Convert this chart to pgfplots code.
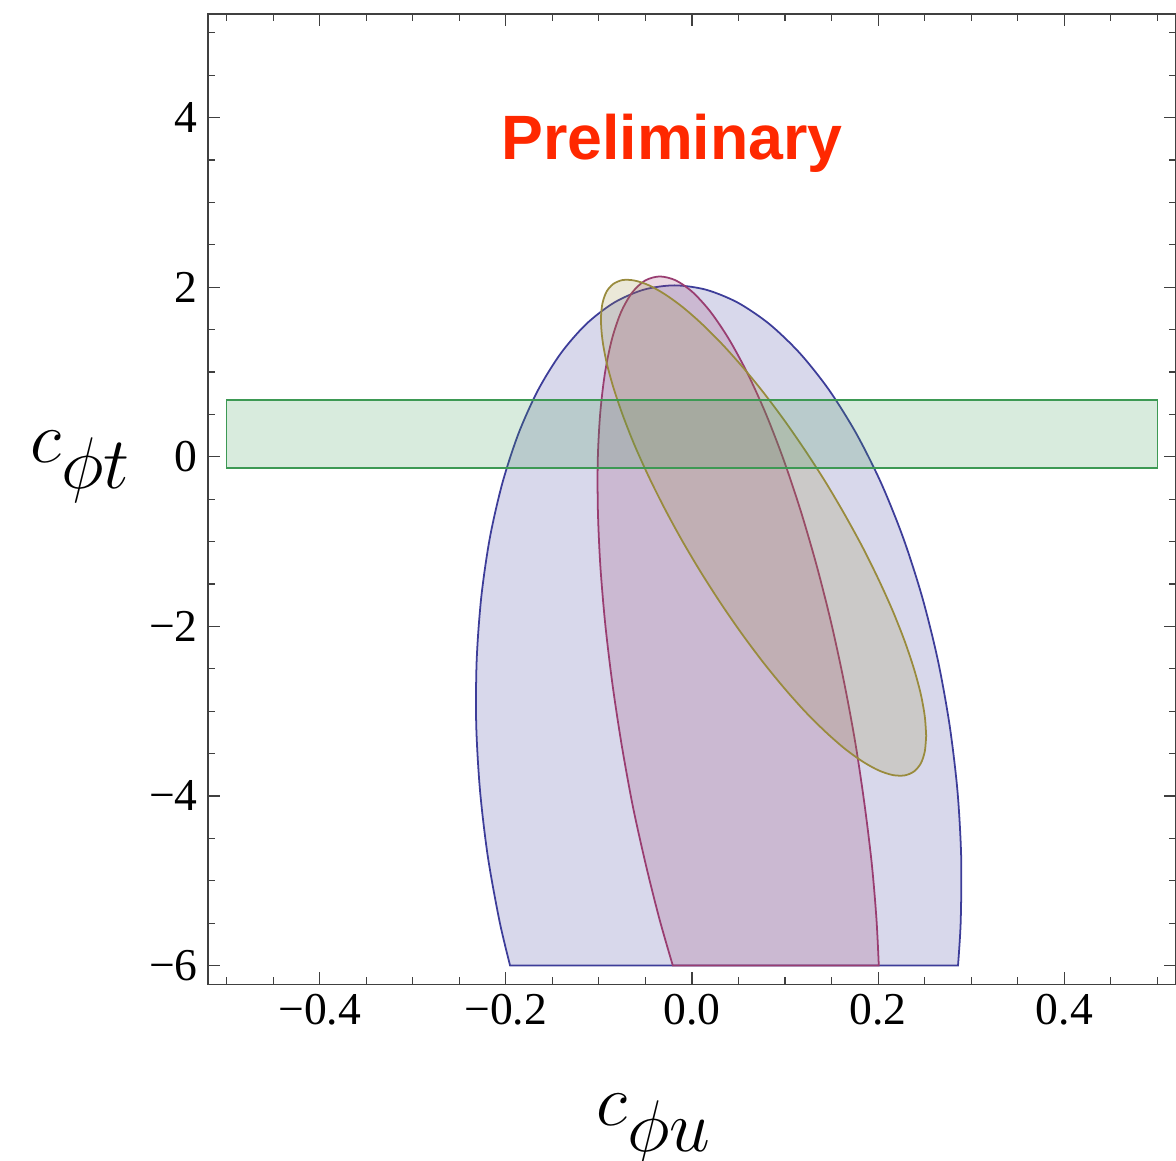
\documentclass[border=0pt]{standalone}
\usepackage{fontspec}
\setmainfont{Liberation Serif}
\newfontfamily\labelsans{Liberation Sans}
\usepackage{pgfplots}
\pgfplotsset{compat=1.18}
\DeclareMathSizes{30}{30}{28}{20}

% Mathematica (pre v10) default plot colours
\definecolor{mmblue}{rgb}{0.24,0.24,0.60}
\definecolor{mmmag}{rgb}{0.60,0.24,0.4428}
\definecolor{mmolive}{rgb}{0.60,0.547,0.24}
\definecolor{mmgreen}{rgb}{0.24,0.60,0.33}
\definecolor{prelim}{RGB}{255,40,0}

\begin{document}
\begin{tikzpicture}
  \begin{axis}[
      scale only axis,
      width=329.1pt, height=329.8pt,
      xmin=-0.52, xmax=0.52, ymin=-6.22, ymax=5.22,
      xtick={-0.4,-0.2,0,0.2,0.4},
      xticklabels={−0.4,−0.2,0.0,0.2,0.4},
      minor xtick={-0.5,-0.45,-0.35,-0.3,-0.25,-0.15,-0.1,-0.05,0.05,0.1,0.15,0.25,0.3,0.35,0.45,0.5},
      ytick={-6,-4,-2,0,2,4},
      yticklabels={−6,−4,−2,0,2,4},
      minor ytick={-5.5,-5,-4.5,-3.5,-3,-2.5,-1.5,-1,-0.5,0.5,1,1.5,2.5,3,3.5,4.5,5},
      tick align=inside,
      major tick length=4pt, minor tick length=2.3pt,
      axis line style={black!75, line width=0.45pt},
      tick style={black!75, line width=0.4pt},
      ticklabel style={font=\fontsize{15.5}{18}\selectfont},
      clip=false,
    ]
    % blue region (cut at c_phi_t = -6)
    \addplot[smooth, draw=mmblue, line width=0.6pt, fill=mmblue, fill opacity=0.2] coordinates {
      (-0.1954,-6.0) (-0.2067,-5.481) (-0.2193,-4.717) (-0.2277,-3.939) (-0.2318,-3.161)
      (-0.2313,-2.396) (-0.2264,-1.658) (-0.2172,-0.959) (-0.2037,-0.310) (-0.1863,0.276)
      (-0.1652,0.790) (-0.1407,1.223) (-0.1134,1.567) (-0.0836,1.818) (-0.0519,1.970)
      (-0.0189,2.021) (0.0150,1.970) (0.0491,1.818) (0.0829,1.567) (0.1157,1.223)
      (0.1471,0.790) (0.1764,0.276) (0.2032,-0.310) (0.2270,-0.959) (0.2474,-1.658)
      (0.2641,-2.396) (0.2767,-3.161) (0.2852,-3.939) (0.2892,-4.717) (0.2887,-5.481)
      (0.2858,-6.0)
    } -- cycle;
    % magenta region
    \addplot[smooth, draw=mmmag, line width=0.6pt, fill=mmmag, fill opacity=0.2] coordinates {
      (-0.0206,-6.0) (-0.0349,-5.454) (-0.0495,-4.815) (-0.0636,-4.119) (-0.0757,-3.388)
      (-0.0856,-2.669) (-0.0933,-1.961) (-0.0985,-1.278) (-0.1011,-0.631) (-0.1012,-0.031)
      (-0.0986,0.511) (-0.0935,0.987) (-0.0860,1.387) (-0.0762,1.706) (-0.0641,1.939)
      (-0.0502,2.079) (-0.0345,2.126) (-0.0173,2.079) (0.0009,1.939) (0.0201,1.706)
      (0.0397,1.387) (0.0595,0.987) (0.0792,0.511) (0.0983,-0.031) (0.1166,-0.631)
      (0.1338,-1.278) (0.1496,-1.961) (0.1636,-2.669) (0.1757,-3.388) (0.1856,-4.119)
      (0.1933,-4.815) (0.1982,-5.454) (0.2007,-6.0)
    } -- cycle;
    % olive ellipse
    \addplot[smooth, draw=mmolive, line width=0.6pt, fill=mmolive, fill opacity=0.2] coordinates {
      (0.2516,-3.290) (0.2501,-3.061) (0.2457,-2.794) (0.2383,-2.494) (0.2282,-2.165)
      (0.2155,-1.813) (0.2004,-1.446) (0.1833,-1.067) (0.1642,-0.684) (0.1438,-0.304)
      (0.1221,0.066) (0.0997,0.422) (0.0769,0.756) (0.0541,1.062) (0.0317,1.336)
      (0.0100,1.573) (-0.0105,1.769) (-0.0295,1.919) (-0.0467,2.024) (-0.0618,2.078)
      (-0.0744,2.084) (-0.0845,2.038) (-0.0919,1.945) (-0.0963,1.802) (-0.0978,1.616)
      (-0.0963,1.387) (-0.0919,1.119) (-0.0845,0.819) (-0.0744,0.491) (-0.0618,0.139)
      (-0.0467,-0.229) (-0.0295,-0.608) (-0.0105,-0.991) (0.0100,-1.370) (0.0317,-1.741)
      (0.0541,-2.096) (0.0769,-2.430) (0.0997,-2.736) (0.1221,-3.011) (0.1438,-3.247)
      (0.1642,-3.443) (0.1833,-3.594) (0.2004,-3.698) (0.2155,-3.753) (0.2282,-3.758)
      (0.2383,-3.713) (0.2457,-3.619) (0.2501,-3.477) (0.2516,-3.290)
    } -- cycle;
    % green band
    \addplot[draw=mmgreen, line width=0.6pt, fill=mmgreen, fill opacity=0.2] coordinates {
      (-0.5,-0.13) (0.5,-0.13) (0.5,0.67) (-0.5,0.67)
    } -- cycle;

    \node[anchor=base, text=prelim, font=\labelsans\bfseries\fontsize{21.3}{25}\selectfont]
      at (axis cs:-0.0215,3.51) {Preliminary};
    \node[anchor=base, font=\fontsize{30}{36}\selectfont, yshift=-48pt]
      at (axis cs:-0.0403,-6.22) {$c_{\phi u}$};
    \node[anchor=base, font=\fontsize{30}{36}\selectfont, xshift=-43.2pt]
      at (axis cs:-0.52,-0.07) {$c_{\phi t}$};
  \end{axis}
  \pgfresetboundingbox
  \useasboundingbox ([xshift=-70.7pt,yshift=-59.8pt]current axis.south west)
    rectangle ([yshift=4.8pt]current axis.north east);
\end{tikzpicture}
\end{document}
